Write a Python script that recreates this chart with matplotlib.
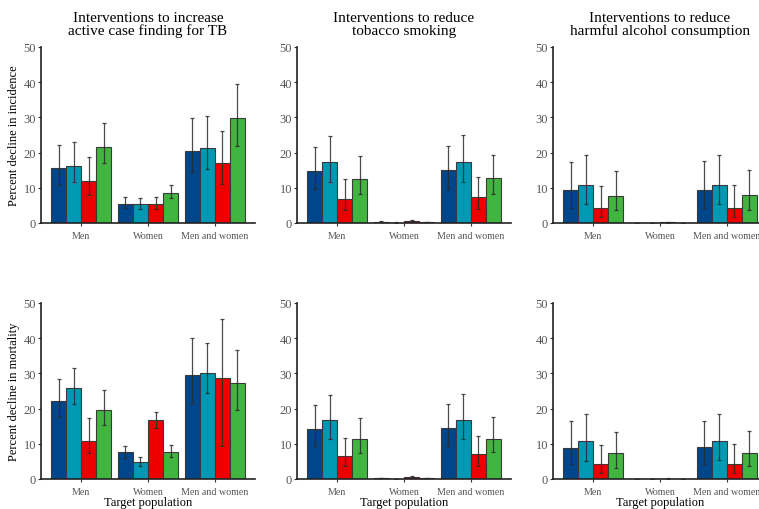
import numpy as np
import matplotlib
matplotlib.use('Agg')
from matplotlib import pyplot as plt

plt.rcParams['font.family'] = ['Liberation Serif', 'DejaVu Serif']

# Categorias y series
grupos = ['Men', 'Women', 'Men and women']
colores = ['#00468B', '#0099B4', '#ED0000', '#42B540']

titulos = ['Interventions to increase\nactive case finding for TB',
           'Interventions to reduce\ntobacco smoking',
           'Interventions to reduce\nharmful alcohol consumption']
etiquetas_y = ['Percent decline in incidence', 'Percent decline in mortality']

# Valores: filas = grupos (Men, Women, Men and women), columnas = 4 series
# Incidencia
tb_inc = [[15.5, 16.2, 11.9, 21.5], [5.3, 5.3, 5.5, 8.6], [20.5, 21.2, 17.0, 29.9]]
tb_inc_lo = [[10.8, 11.6, 8.0, 17.0], [4.2, 4.0, 4.0, 7.0], [14.6, 15.3, 11.0, 21.8]]
tb_inc_hi = [[22.2, 22.9, 18.7, 28.3], [7.3, 7.1, 7.3, 10.7], [29.7, 30.3, 26.2, 39.5]]

tab_inc = [[14.8, 17.4, 6.8, 12.6], [0.4, 0.1, 0.7, 0.35], [15.0, 17.4, 7.3, 12.8]]
tab_inc_lo = [[9.7, 11.7, 3.7, 8.3], [0.3, 0.05, 0.5, 0.3], [9.7, 11.7, 4.0, 8.3]]
tab_inc_hi = [[21.7, 24.7, 12.4, 19.0], [0.5, 0.15, 0.9, 0.4], [22.0, 24.9, 13.0, 19.2]]

alc_inc = [[9.3, 10.9, 4.2, 7.8], [0.0, 0.0, 0.15, 0.0], [9.3, 10.9, 4.4, 7.9]]
alc_inc_lo = [[4.2, 5.3, 1.7, 3.7], [0.0, 0.0, 0.1, 0.0], [4.2, 5.3, 1.7, 3.8]]
alc_inc_hi = [[17.3, 19.4, 10.4, 14.8], [0.0, 0.0, 0.2, 0.0], [17.5, 19.4, 10.8, 15.0]]

# Mortalidad
tb_mor = [[22.2, 25.9, 10.9, 19.5], [7.6, 4.7, 16.7, 7.8], [29.5, 30.1, 28.6, 27.3]]
tb_mor_lo = [[17.7, 21.4, 7.4, 15.4], [6.1, 3.6, 14.5, 6.2], [21.6, 24.5, 9.4, 19.5]]
tb_mor_hi = [[28.3, 31.6, 17.4, 25.3], [9.4, 6.3, 19.0, 9.7], [40.0, 38.5, 45.5, 36.6]]

tab_mor = [[14.2, 16.9, 6.4, 11.3], [0.3, 0.05, 0.45, 0.2], [14.4, 16.9, 7.1, 11.4]]
tab_mor_lo = [[9.3, 11.3, 3.6, 7.4], [0.25, 0.0, 0.2, 0.15], [9.5, 11.3, 3.8, 7.6]]
tab_mor_hi = [[21.0, 23.8, 11.6, 17.2], [0.35, 0.1, 0.8, 0.25], [21.2, 24.1, 12.1, 17.6]]

alc_mor = [[8.9, 10.7, 4.2, 7.3], [0.0, 0.0, 0.1, 0.0], [9.0, 10.7, 4.4, 7.5]]
alc_mor_lo = [[4.2, 5.1, 1.7, 3.2], [0.0, 0.0, 0.05, 0.0], [4.4, 5.3, 1.7, 3.6]]
alc_mor_hi = [[16.6, 18.6, 9.8, 13.4], [0.0, 0.0, 0.15, 0.0], [16.6, 18.6, 9.9, 13.5]]

paneles = [
    [(tb_inc, tb_inc_lo, tb_inc_hi), (tab_inc, tab_inc_lo, tab_inc_hi), (alc_inc, alc_inc_lo, alc_inc_hi)],
    [(tb_mor, tb_mor_lo, tb_mor_hi), (tab_mor, tab_mor_lo, tab_mor_hi), (alc_mor, alc_mor_lo, alc_mor_hi)],
]

# Figura en pixeles
W, H = 759, 510
fig = plt.figure(figsize=(W / 100, H / 100), dpi=100)

izq = [41, 297, 553]
ancho = 214
abajo = [224, 480]   # posicion del cero (pixeles desde arriba)
alto = 176

ancho_barra = 0.9 / 4
x = np.arange(1, len(grupos) + 1)

for fila in range(2):
    for col in range(3):
        ax = fig.add_axes([izq[col] / W, (H - abajo[fila]) / H, ancho / W, alto / H])
        val, lo, hi = [np.array(a) for a in paneles[fila][col]]
        for s in range(4):
            pos = x - 0.45 + ancho_barra * (s + 0.5)
            ax.bar(pos, val[:, s], width=ancho_barra, color=colores[s],
                   edgecolor='#3a3a3a', linewidth=0.8, zorder=2)
            ax.errorbar(pos, val[:, s], yerr=[val[:, s] - lo[:, s], hi[:, s] - val[:, s]],
                        fmt='none', ecolor='#2b2b2b', elinewidth=0.9, capsize=1.6,
                        capthick=0.9, alpha=0.85, zorder=3)
        ax.set_xlim(0.4, 3.6)
        ax.set_ylim(0, 50)
        ax.set_yticks([0, 10, 20, 30, 40, 50])
        ax.set_xticks(x)
        ax.set_xticklabels(grupos)
        for lado in ['top', 'right']:
            ax.spines[lado].set_visible(False)
        for lado in ['left', 'bottom']:
            ax.spines[lado].set_linewidth(1.2)
            ax.spines[lado].set_color('#222222')
        ax.tick_params(axis='both', colors='#333333', labelcolor='#555555',
                       length=2, width=0.8, pad=1.5)
        ax.tick_params(axis='y', labelsize=9)
        ax.tick_params(axis='x', labelsize=7.2, pad=4)
        if fila == 0:
            ax.set_title(titulos[col], fontsize=11, pad=9, linespacing=1.0)
        else:
            ax.set_xlabel('Target population', fontsize=9, labelpad=0)
        if col == 0:
            ax.set_ylabel(etiquetas_y[fila], fontsize=9, labelpad=2.5)

fig.savefig('out.png', dpi=100)
